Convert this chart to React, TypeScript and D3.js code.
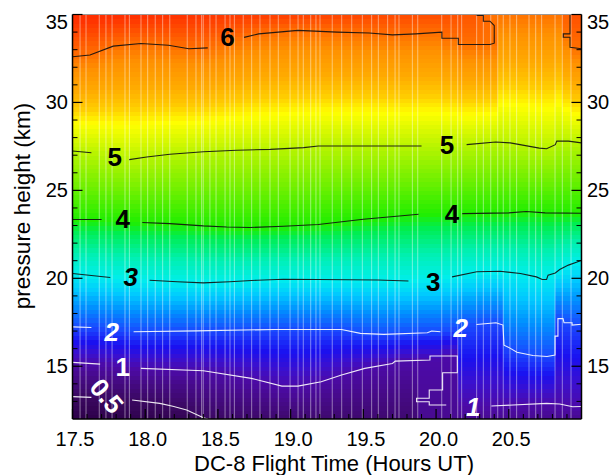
import React from 'react';
import * as d3 from 'd3';

type P = [number, number];
const GAP: P = [NaN, NaN];

// ---- data ----
const timeDomain: P = [17.5, 21.0];
const heightDomain: P = [12, 35];
const xTickValues = [17.5, 18.0, 18.5, 19.0, 19.5, 20.0, 20.5];
const yTickValues = [15, 20, 25, 30, 35];

// times of the thin white data-gap stripes (hours UT)
const stripeTimes = [
  17.552, 17.593, 17.684, 17.73, 17.772, 17.861, 17.891, 17.971, 18.017, 18.069, 18.12, 18.169,
  18.289, 18.349, 18.388, 18.399, 18.445, 18.487, 18.549, 18.583, 18.613, 18.674, 18.732, 18.789,
  18.858, 18.915, 18.996, 19.051, 19.087, 19.138, 19.174, 19.202, 19.286, 19.351, 19.42, 19.493,
  19.557, 19.603, 19.667, 19.718, 19.745, 19.837, 19.874, 20.039, 20.103, 20.149, 20.176, 20.279,
  20.325, 20.376, 20.424, 20.462, 20.508, 20.554, 20.639, 20.685, 20.726, 20.818, 20.868, 20.928,
];

// contour isolines: [time, height km]
const contour6: P[] = [
  [17.5, 32.6], [17.62, 32.7], [17.78, 33.2], [17.97, 33.35], [18.16, 33.25], [18.3, 33.05], [18.43, 33.1], GAP,
  [18.68, 33.7], [18.78, 33.9], [19.05, 34.1], [19.32, 34.0], [19.54, 33.95], [19.7, 33.84], [19.86, 33.9],
  [20.04, 34.0], [20.04, 33.65], [20.153, 33.65], [20.153, 33.29], [20.371, 33.29], [20.4, 33.37],
  [20.4, 34.37], [20.371, 34.62], [20.325, 34.62], [20.325, 34.94], [20.286, 34.94], [20.274, 35.0],
];
const contour6b: P[] = [
  [20.921, 35.0], [20.921, 33.9], [20.875, 33.9], [20.875, 33.71], [20.921, 33.71], [20.921, 33.14], [21.0, 33.05],
];
const contour5: P[] = [
  [17.5, 27.24], [17.63, 27.14], GAP,
  [17.89, 26.75], [18.01, 26.9], [18.17, 27.05], [18.4, 27.2], [18.63, 27.28], [18.86, 27.33], [19.09, 27.43],
  [19.19, 27.52], [19.9, 27.52], GAP,
  [20.21, 27.6], [20.41, 27.75], [20.51, 27.7], [20.71, 27.4], [20.76, 27.37], [20.82, 27.6], [20.83, 27.8],
  [20.91, 27.8], [21.0, 27.7],
];
const contour4: P[] = [
  [17.5, 23.34], [17.7, 23.34], GAP,
  [17.98, 23.17], [18.17, 23.11], [18.4, 22.98], [18.56, 22.92], [18.72, 22.89], [18.95, 22.96], [19.19, 23.06],
  [19.5, 23.36], [19.88, 23.64], GAP,
  [20.18, 23.68], [20.5, 23.72], [20.62, 23.8], [20.75, 23.72], [21.0, 23.7],
];
const contour3: P[] = [
  [17.5, 20.27], [17.76, 20.05], GAP,
  [18.03, 19.89], [18.22, 19.8], [18.4, 19.74], [18.58, 19.8], [18.77, 19.89], [18.95, 19.95], [19.19, 19.93],
  [19.6, 19.9], [19.81, 19.85], GAP,
  [20.11, 20.08], [20.28, 20.37], [20.44, 20.4], [20.58, 20.27], [20.69, 20.08], [20.73, 19.93], [20.76, 19.93],
  [20.77, 20.18], [20.82, 20.3], [20.85, 20.5], [20.91, 20.75], [20.97, 20.93], [21.0, 21.03],
];
const contour2: P[] = [
  [17.5, 17.24], [17.63, 17.2], GAP,
  [17.92, 16.96], [18.35, 17.01], [18.89, 17.09], [19.35, 17.09], [19.48, 16.87], [19.64, 16.81], [19.94, 16.9],
  [19.97, 17.0], [20.03, 16.96], GAP,
  [20.278, 17.37], [20.412, 17.47], [20.46, 17.34], [20.467, 16.2], [20.508, 16.03], [20.556, 15.8],
  [20.666, 15.61], [20.763, 15.55], [20.818, 15.63], [20.818, 16.71], [20.838, 16.71], [20.838, 17.71],
  [20.873, 17.71], [20.88, 17.47], [20.935, 17.47], [20.935, 17.34], [21.0, 17.39],
];
const contour1: P[] = [
  [17.5, 15.22], [17.69, 15.12], GAP,
  [17.97, 14.88], [18.4, 14.74], [18.73, 14.31], [18.94, 13.87], [19.05, 13.87], [19.21, 14.12], [19.35, 14.5],
  [19.51, 14.88], [19.7, 15.16], [19.72, 15.29], [19.958, 15.35], [19.958, 15.58], [20.146, 15.58],
  [20.146, 14.63], [20.045, 14.63], [20.045, 13.65], [19.953, 13.65], [19.953, 13.18], [19.866, 13.18],
  [19.866, 12.98], [19.953, 12.98], [19.953, 12.8], [20.07, 12.8], GAP,
  [20.38, 12.74], [20.76, 12.89], [20.85, 12.85], [20.94, 12.7], [21.0, 12.71],
];
const contour05: P[] = [
  [17.5, 13.27], [17.63, 13.23], GAP,
  [17.91, 13.08], [18.1, 12.89], [18.19, 12.72], [18.285, 12.51], [18.4, 12.07], [18.434, 12.0],
];

const contourLevels = [
  { level: 6, paths: [contour6, contour6b], color: '#111' },
  { level: 5, paths: [contour5], color: '#111' },
  { level: 4, paths: [contour4], color: '#111' },
  { level: 3, paths: [contour3], color: '#111' },
  { level: 2, paths: [contour2], color: '#fff' },
  { level: 1, paths: [contour1], color: '#fff' },
  { level: 0.5, paths: [contour05], color: '#fff' },
];

// values at the bottom (12 km) and top (35 km) of the profile
const floorValues: P[] = [[17.5, 0.3], [18.3, 0.4], [18.45, 0.52], [19.0, 0.6], [19.85, 0.62], [19.9, 0.85], [21.0, 0.85]];
const ceilValues: P[] = [[17.5, 6.7], [18.5, 6.55], [19.2, 6.45], [20.2, 6.3], [20.33, 6.1], [20.4, 5.99], [20.87, 5.99], [20.92, 6.3], [21.0, 6.3]];

const contourLabels = [
  { text: '6', t: 18.566, h: 33.71, fill: '#000', italic: false, rotate: 0 },
  { text: '5', t: 17.79, h: 26.9, fill: '#000', italic: false, rotate: 0 },
  { text: '5', t: 20.075, h: 27.56, fill: '#000', italic: false, rotate: 0 },
  { text: '4', t: 17.845, h: 23.4, fill: '#000', italic: false, rotate: 0 },
  { text: '4', t: 20.11, h: 23.64, fill: '#000', italic: false, rotate: 0 },
  { text: '3', t: 17.9, h: 20.08, fill: '#000', italic: true, rotate: 0 },
  { text: '3', t: 19.98, h: 19.8, fill: '#000', italic: false, rotate: 0 },
  { text: '2', t: 17.77, h: 16.96, fill: '#fff', italic: true, rotate: 0 },
  { text: '2', t: 20.17, h: 17.15, fill: '#fff', italic: true, rotate: 0 },
  { text: '1', t: 17.845, h: 14.97, fill: '#fff', italic: false, rotate: 0 },
  { text: '1', t: 20.256, h: 12.7, fill: '#fff', italic: true, rotate: 0 },
  { text: '0.5', t: 17.735, h: 13.31, fill: '#fff', italic: false, rotate: 50 },
];

const colorStops: [number, string][] = [
  [0.3, '#2c0048'], [0.5, '#3a0860'], [0.8, '#460a88'], [1.0, '#4c0aa8'], [1.3, '#3a10d0'], [1.6, '#1a10f0'],
  [2.0, '#1a48ff'], [2.4, '#0090ff'], [2.7, '#00c8ff'], [3.0, '#00eeee'], [3.4, '#00f0b0'], [3.8, '#00ee50'],
  [4.0, '#20ee00'], [4.5, '#70f000'], [5.0, '#b8f400'], [5.3, '#ffff00'], [5.45, '#ffcc00'], [5.63, '#ffaa00'],
  [5.85, '#ff9000'], [6.0, '#ff7000'], [6.3, '#ff5000'], [6.6, '#ff3000'],
];

// ---- layout ----
const W = 615, H = 475;
const plot = { left: 72.5, right: 581.5, top: 14.5, bottom: 419 };
const FONT = '"Liberation Sans", Arial, Helvetica, sans-serif';

function levelAt(paths: P[][], t: number): number | null {
  for (const path of paths) {
    const pts = path.filter((p) => !isNaN(p[0]));
    for (let i = 0; i < pts.length - 1; i++) {
      const [t0, h0] = pts[i];
      const [t1, h1] = pts[i + 1];
      if (t0 === t1) continue;
      if (t >= Math.min(t0, t1) && t <= Math.max(t0, t1)) return h0 + ((h1 - h0) * (t - t0)) / (t1 - t0);
    }
  }
  return null;
}

export default function App() {
  const x = d3.scaleLinear().domain(timeDomain).range([plot.left, plot.right]);
  const y = d3.scaleLinear().domain(heightDomain).range([plot.bottom, plot.top]);
  const color = d3
    .scaleLinear<string>()
    .domain(colorStops.map((d) => d[0]))
    .range(colorStops.map((d) => d[1]))
    .interpolate(d3.interpolateRgb)
    .clamp(true);
  const floorAt = d3.scaleLinear().domain(floorValues.map((d) => d[0])).range(floorValues.map((d) => d[1])).clamp(true);
  const ceilAt = d3.scaleLinear().domain(ceilValues.map((d) => d[0])).range(ceilValues.map((d) => d[1])).clamp(true);

  const edges = [timeDomain[0], ...stripeTimes, timeDomain[1]];
  const dh = 0.25;
  const rows = d3.range(heightDomain[0], heightDomain[1], dh);
  const cells: { x: number; w: number; y: number; hgt: number; fill: string; key: string }[] = [];
  for (let c = 0; c < edges.length - 1; c++) {
    const tc = (edges[c] + edges[c + 1]) / 2;
    const anchors: P[] = [[heightDomain[0], floorAt(tc)]];
    for (const lv of contourLevels) {
      const h = levelAt(lv.paths, tc);
      if (h !== null && h > heightDomain[0] && h < heightDomain[1]) anchors.push([h, lv.level]);
    }
    anchors.push([heightDomain[1], ceilAt(tc)]);
    anchors.sort((a, b) => a[0] - b[0]);
    const prof = d3.scaleLinear().domain(anchors.map((a) => a[0])).range(anchors.map((a) => a[1])).clamp(true);
    const x0 = x(edges[c]);
    const x1 = x(edges[c + 1]);
    for (const r of rows) {
      const v = prof(r + dh / 2);
      cells.push({
        x: x0,
        w: x1 - x0 + 0.6,
        y: y(Math.min(r + dh, heightDomain[1])),
        hgt: y(r) - y(Math.min(r + dh, heightDomain[1])) + 0.6,
        fill: color(v),
        key: `${c}-${r}`,
      });
    }
  }

  const line = d3
    .line<P>()
    .defined((d) => !isNaN(d[0]))
    .x((d) => x(d[0]))
    .y((d) => y(d[1]));

  const yMinor = d3.range(13, 35, 1).filter((v) => !yTickValues.includes(v));
  const xMinor = d3.range(17.6, 21.0, 0.1).filter((v) => !xTickValues.some((t) => Math.abs(t - v) < 1e-6));

  return (
    <svg width={W} height={H} style={{ position: 'absolute', left: 0, top: 0, background: '#fff' }} fontFamily={FONT}>
      <defs>
        <clipPath id="plotclip">
          <rect x={plot.left} y={plot.top} width={plot.right - plot.left} height={plot.bottom - plot.top} />
        </clipPath>
      </defs>
      <g clipPath="url(#plotclip)">
        <g shapeRendering="crispEdges">
          {cells.map((c) => (
            <rect key={c.key} x={c.x} y={c.y} width={c.w} height={c.hgt} fill={c.fill} />
          ))}
        </g>
        {stripeTimes.map((t, i) => (
          <line key={i} x1={x(t)} x2={x(t)} y1={plot.top} y2={plot.bottom} stroke="#fff" strokeOpacity={0.45} strokeWidth={1} />
        ))}
        {contourLevels.map((lv) =>
          lv.paths.map((p, j) => (
            <path key={`${lv.level}-${j}`} d={line(p) || ''} fill="none" stroke={lv.color} strokeWidth={1.1} strokeOpacity={0.9} />
          ))
        )}
        {contourLabels.map((l, i) => (
          <text
            key={i}
            x={x(l.t)}
            y={y(l.h)}
            fill={l.fill}
            fontSize={26}
            fontWeight="bold"
            fontStyle={l.italic ? 'italic' : 'normal'}
            textAnchor="middle"
            dominantBaseline="central"
            transform={l.rotate ? `rotate(${l.rotate},${x(l.t)},${y(l.h)})` : undefined}
          >
            {l.text}
          </text>
        ))}
      </g>
      {/* frame */}
      <line x1={plot.left} x2={plot.right} y1={plot.top} y2={plot.top} stroke="#999" strokeWidth={1} />
      <line x1={plot.left} x2={plot.right} y1={plot.bottom} y2={plot.bottom} stroke="#000" strokeWidth={1.5} />
      <line x1={plot.left} x2={plot.left} y1={plot.top} y2={plot.bottom} stroke="#000" strokeWidth={1.5} />
      <line x1={plot.right} x2={plot.right} y1={plot.top} y2={plot.bottom} stroke="#000" strokeWidth={1.5} />
      {/* y ticks */}
      {yTickValues.map((v) => (
        <g key={v}>
          <line x1={plot.left} x2={plot.left + 10} y1={y(v)} y2={y(v)} stroke="#000" strokeWidth={1.2} />
          <line x1={plot.right - 10} x2={plot.right} y1={y(v)} y2={y(v)} stroke="#000" strokeWidth={1.2} />
          <text x={68} y={Math.max(y(v), plot.top + 7)} fontSize={20} textAnchor="end" dominantBaseline="central">{v}</text>
          <text x={587} y={Math.max(y(v), plot.top + 7)} fontSize={20} textAnchor="start" dominantBaseline="central">{v}</text>
        </g>
      ))}
      {yMinor.map((v) => (
        <g key={v}>
          <line x1={plot.left} x2={plot.left + 5} y1={y(v)} y2={y(v)} stroke="#000" strokeWidth={1} />
          <line x1={plot.right - 5} x2={plot.right} y1={y(v)} y2={y(v)} stroke="#000" strokeWidth={1} />
        </g>
      ))}
      {/* x ticks */}
      {xTickValues.map((v) => (
        <g key={v}>
          <line x1={x(v)} x2={x(v)} y1={plot.bottom} y2={plot.bottom - 10} stroke="#000" strokeWidth={1.2} />
          <text x={x(v) + 2.5} y={446} fontSize={20} textAnchor="middle">{v.toFixed(1)}</text>
        </g>
      ))}
      {xMinor.map((v, i) => (
        <line key={i} x1={x(v)} x2={x(v)} y1={plot.bottom} y2={plot.bottom - 5} stroke="#000" strokeWidth={1} />
      ))}
      <text x={334} y={471} fontSize={22} textAnchor="middle">DC-8 Flight Time (Hours UT)</text>
      <text transform="translate(30,206) rotate(-90)" fontSize={22.5} textAnchor="middle">pressure height (km)</text>
    </svg>
  );
}
